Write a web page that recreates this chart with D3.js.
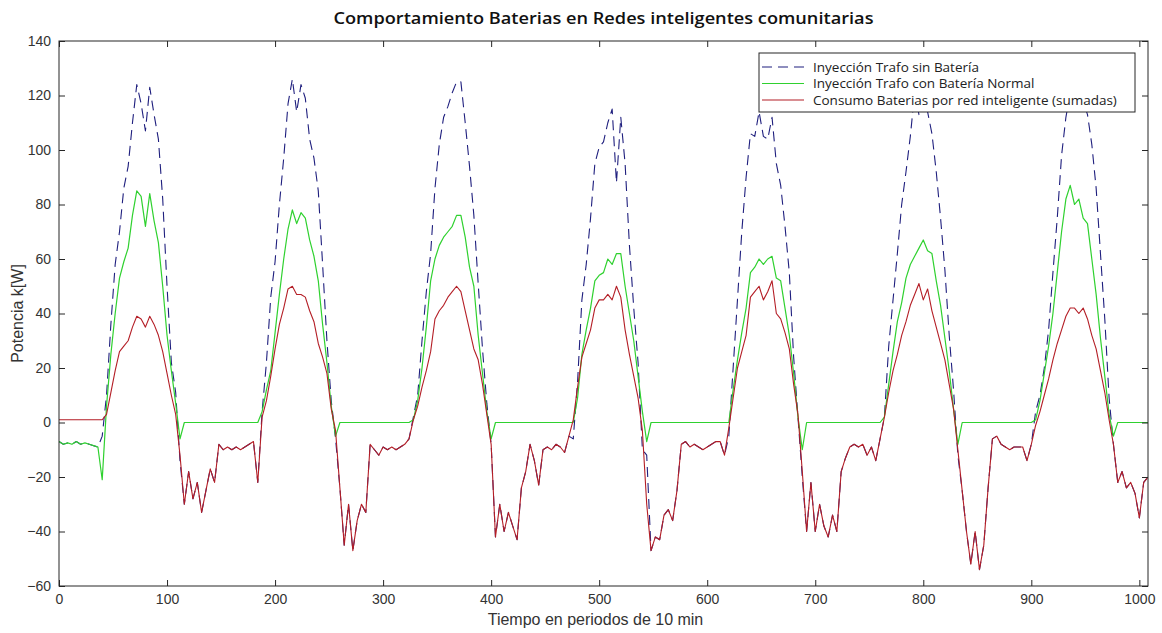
<!DOCTYPE html>
<html>
<head>
<meta charset="utf-8">
<script src="https://cdn.jsdelivr.net/npm/d3@7"></script>
<style>
  html, body { margin: 0; padding: 0; background: #fff; }
  svg { display: block; }
</style>
</head>
<body>
<svg id="chart" width="1162" height="633"></svg>
<script>
// ---------------- DATA ----------------
const titleText = "Comportamiento Baterias en Redes inteligentes comunitarias";
const xLabelText = "Tiempo en periodos de 10 min";
const yLabelText = "Potencia k[W]";
const seriesNames = [
  "Inyección Trafo sin Batería",
  "Inyección Trafo con Batería Normal",
  "Consumo Baterias por red inteligente (sumadas)"
];
const xTicks = [0, 100, 200, 300, 400, 500, 600, 700, 800, 900, 1000];
const yTicks = [-60, -40, -20, 0, 20, 40, 60, 80, 100, 120, 140];
const stepPeriods = 4; // values read every 4 periods (t = 0, 4, ..., 1008)

const sinBateria = [
  -7,-8,-7.5,-8,-7,-8,-7.5,-8,-8.5,-9,
  -5,10,36,58,70,86,94,110,124,117,
  107,123,113,104,82,50,22,11,-14,-30,
  -18,-28,-22,-33,-25,-17,-22,-8,-10,-9,
  -10,-9,-10,-9,-8,-7,-22,4,22,46,
  59,80,97,117,126,114,124,119,104,97,
  85,58,30,8,-6,-24,-45,-30,-47,-36,
  -30,-33,-8,-10,-12,-9,-10,-9,-10,-9,
  -8,-6,2,10,30,48,62,86,102,112,
  116,121,125,125,110,94,76,51,27,7,
  -8,-42,-30,-40,-33,-38,-43,-24,-18,-8,
  -14,-23,-10,-9,-10,-8,-9,-11,-5,-6,
  15,45,58,75,95,101,103,110,115,88,
  112,95,65,42,22,-10,-12,-47,-42,-43,
  -34,-32,-36,-25,-8,-7,-9,-8,-9,-10,
  -9,-8,-7,-7,-12,-5,20,45,70,90,
  106,105,114,105,104,112,95,87,72,55,
  24,2,-20,-40,-22,-40,-30,-38,-42,-34,
  -40,-18,-13,-9,-8,-9,-8,-12,-9,-14,
  -6,2,28,45,62,80,92,105,121,113,
  124,114,106,92,75,56,32,12,-12,-25,
  -40,-52,-40,-54,-45,-24,-6,-5,-8,-9,
  -10,-9,-9,-9,-14,-8,4,10,20,34,
  55,75,98,112,121,124,123,118,113,102,
  86,62,38,9,-8,-22,-18,-24,-22,-26,
  -35,-22,-20
];

const conBateria = [
  -7,-8,-7.5,-8,-7,-8,-7.5,-8,-8.5,-9,
  -21,6,25,40,53,59,64,76,85,83,
  72,84,74,66,50,32,19,7,-6,0,
  0,0,0,0,0,0,0,0,0,0,
  0,0,0,0,0,0,0,4,12,19,
  33,47,60,71,78,73,77,75,67,61,
  52,36,22,6,-5,0,0,0,0,0,
  0,0,0,0,0,0,0,0,0,0,
  0,0,1,8,20,35,52,60,65,68,
  70,72,76,76,68,57,50,32,18,4,
  -6,0,0,0,0,0,0,0,0,0,
  0,0,0,0,0,0,0,0,0,0,
  9,25,34,42,52,54,55,60,58,62,
  62,50,40,30,17,4,-7,0,0,0,
  0,0,0,0,0,0,0,0,0,0,
  0,0,0,0,0,0,12,23,33,42,
  55,57,60,58,60,61,53,52,42,32,
  18,2,-10,0,0,0,0,0,0,0,
  0,0,0,0,0,0,0,0,0,0,
  0,2,14,26,37,44,53,58,61,64,
  67,63,62,52,43,31,19,5,-8,0,
  0,0,0,0,0,0,0,0,0,0,
  0,0,0,0,0,0,1,8,18,28,
  40,55,70,82,87,80,82,75,73,60,
  47,31,17,3,-5,0,0,0,0,0,
  0,0,0
];

const consumoBaterias = [
  1,1,1,1,1,1,1,1,1,1,
  1,3,11,19,26,28,30,35,39,38,
  35,39,36,32,26,18,10,3,-12,-30,
  -18,-28,-22,-33,-25,-17,-22,-8,-10,-9,
  -10,-9,-10,-9,-8,-7,-22,2,8,17,
  27,36,42,49,50,47,47,46,41,37,
  29,24,18,5,-3,-24,-45,-30,-47,-36,
  -30,-33,-8,-10,-12,-9,-10,-9,-10,-9,
  -8,-6,1,6,13,19,26,38,41,43,
  46,48,50,48,41,34,27,23,14,3,
  -8,-42,-30,-40,-33,-38,-43,-24,-18,-8,
  -14,-23,-10,-9,-10,-8,-9,-11,-5,1,
  13,24,29,34,42,45,45,47,45,50,
  46,34,25,17,9,-3,-30,-47,-42,-43,
  -34,-32,-36,-25,-8,-7,-9,-8,-9,-10,
  -9,-8,-7,-7,-12,-2,9,20,26,32,
  46,48,50,45,48,52,40,38,33,27,
  14,3,-18,-40,-22,-40,-30,-38,-42,-34,
  -40,-18,-13,-9,-8,-9,-8,-12,-9,-14,
  -6,2,11,19,25,32,37,43,47,51,
  45,49,41,35,29,23,14,5,-10,-25,
  -40,-52,-40,-54,-45,-24,-6,-5,-8,-9,
  -10,-9,-9,-9,-14,-8,-1,4,10,16,
  23,29,34,39,42,42,40,42,38,32,
  27,19,11,1,-8,-22,-18,-24,-22,-26,
  -35,-22,-20
];

// ---------------- LAYOUT ----------------
const svg = d3.select("#chart");
const plot = { left: 59, right: 1148, top: 41, bottom: 586 };
const axisColor = "#262626";
const tickFont = "'Liberation Sans Narrow', 'Liberation Sans', Arial, sans-serif";

const x = d3.scaleLinear().domain([0, 1008]).range([plot.left, plot.right]);
const y = d3.scaleLinear().domain([-60, 140]).range([plot.bottom, plot.top]);

const series = [
  { name: seriesNames[0], values: sinBateria, color: "#1f1f7e", dash: "10,6", width: 1.1 },
  { name: seriesNames[1], values: conBateria, color: "#2fd12f", dash: null, width: 1.2 },
  { name: seriesNames[2], values: consumoBaterias, color: "#b41e26", dash: null, width: 1.1 }
];

// clip
svg.append("defs").append("clipPath").attr("id", "clip")
  .append("rect")
  .attr("x", plot.left).attr("y", plot.top)
  .attr("width", plot.right - plot.left).attr("height", plot.bottom - plot.top);

const line = d3.line()
  .x((d, i) => x(i * stepPeriods))
  .y(d => y(d));

const lines = svg.append("g").attr("clip-path", "url(#clip)");
series.forEach(s => {
  lines.append("path")
    .datum(s.values)
    .attr("fill", "none")
    .attr("stroke", s.color)
    .attr("stroke-width", s.width)
    .attr("stroke-dasharray", s.dash)
    .attr("stroke-linejoin", "round")
    .attr("d", line);
});

// axes (MATLAB style: inward ticks on all four sides)
const styleAxis = g => {
  g.select(".domain").remove();
  g.selectAll(".tick line").attr("stroke", axisColor);
  g.selectAll(".tick text").attr("fill", "#333")
    .style("font-family", tickFont).style("font-size", "14px");
};

svg.append("g")
  .attr("transform", `translate(0,${plot.bottom})`)
  .call(d3.axisBottom(x).tickValues(xTicks).tickFormat(d3.format("d")).tickSizeInner(-6).tickSizeOuter(0).tickPadding(8))
  .call(styleAxis);

svg.append("g")
  .attr("transform", `translate(0,${plot.top})`)
  .call(d3.axisTop(x).tickValues(xTicks).tickFormat("").tickSizeInner(-6).tickSizeOuter(0))
  .call(styleAxis);

svg.append("g")
  .attr("transform", `translate(${plot.left},0)`)
  .call(d3.axisLeft(y).tickValues(yTicks).tickFormat(d3.format("d")).tickSizeInner(-6).tickSizeOuter(0).tickPadding(8))
  .call(styleAxis);

svg.append("g")
  .attr("transform", `translate(${plot.right},0)`)
  .call(d3.axisRight(y).tickValues(yTicks).tickFormat("").tickSizeInner(-6).tickSizeOuter(0))
  .call(styleAxis);

// frame
svg.append("rect")
  .attr("x", plot.left).attr("y", plot.top)
  .attr("width", plot.right - plot.left).attr("height", plot.bottom - plot.top)
  .attr("fill", "none").attr("stroke", axisColor).attr("stroke-width", 1);

// title
svg.append("text")
  .attr("x", (plot.left + plot.right) / 2).attr("y", 24)
  .attr("text-anchor", "middle")
  .style("font-family", "'Open Sans', 'Liberation Sans', sans-serif")
  .style("font-weight", "600")
  .style("font-size", "16px")
  .attr("textLength", 540).attr("lengthAdjust", "spacingAndGlyphs")
  .attr("fill", "#111")
  .text(titleText);

// axis labels
svg.append("text")
  .attr("x", (plot.left + plot.right) / 2 - 8).attr("y", 625)
  .attr("text-anchor", "middle")
  .style("font-family", tickFont).style("font-size", "16px")
  .attr("fill", "#333")
  .text(xLabelText);

svg.append("text")
  .attr("transform", `translate(23,${(plot.top + plot.bottom) / 2}) rotate(-90)`)
  .attr("text-anchor", "middle")
  .style("font-family", tickFont).style("font-size", "16px")
  .attr("fill", "#333")
  .text(yLabelText);

// legend
const leg = { x: 759, y: 53, w: 376, h: 59 };
const lg = svg.append("g");
lg.append("rect")
  .attr("x", leg.x).attr("y", leg.y).attr("width", leg.w).attr("height", leg.h)
  .attr("fill", "#fff").attr("stroke", axisColor).attr("stroke-width", 1);
series.forEach((s, i) => {
  const yy = leg.y + 14 + i * 16.5;
  lg.append("line")
    .attr("x1", leg.x + 3).attr("x2", leg.x + 45)
    .attr("y1", yy).attr("y2", yy)
    .attr("stroke", s.color).attr("stroke-width", s.width)
    .attr("stroke-dasharray", s.dash);
  lg.append("text")
    .attr("x", leg.x + 54).attr("y", yy + 4.5)
    .style("font-family", "'Open Sans', 'Liberation Sans', sans-serif")
    .style("font-size", "13.5px")
    .attr("fill", "#222")
    .text(s.name);
});
</script>
</body>
</html>
